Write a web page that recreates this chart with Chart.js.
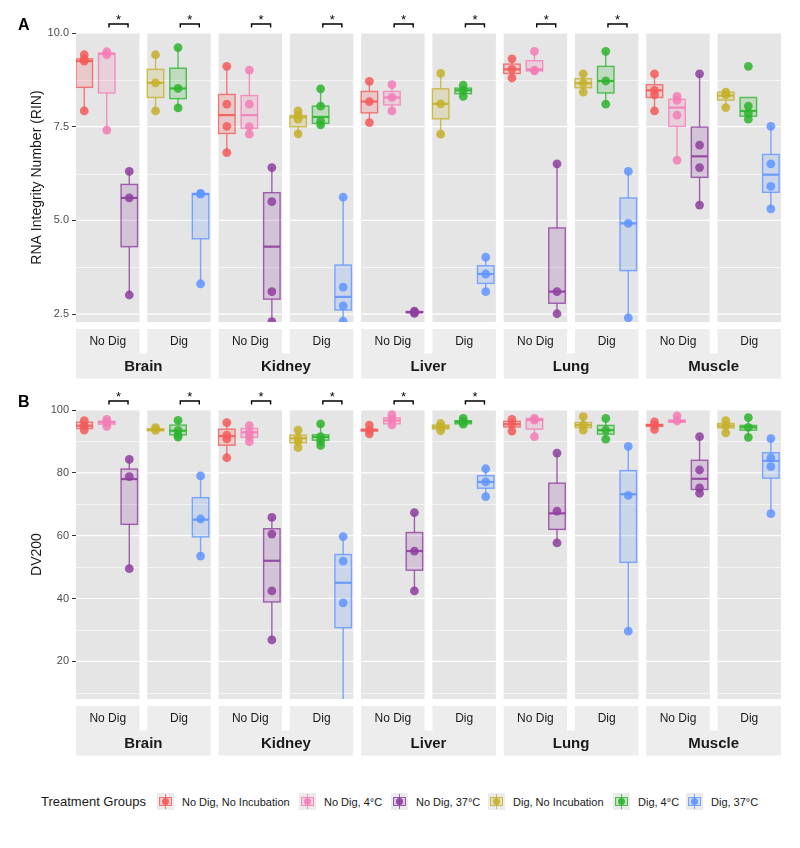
<!DOCTYPE html>
<html>
<head>
<meta charset="utf-8">
<script src="https://cdn.jsdelivr.net/npm/chart.js@4.4.1/dist/chart.umd.min.js"></script>
<style>
  body { margin: 0; background: #fff; font-family: "Liberation Sans", Arial, sans-serif; }
  #wrap { position: relative; width: 800px; height: 848px; overflow: hidden; }
  canvas { position: absolute; left: 0; }
  #legend { position: absolute; left: 0; top: 793px; width: 800px; height: 18px; }
  #legend .title { position: absolute; left: 41px; top: 0; font-size: 13px; line-height: 18px; color: #1a1a1a; }
  #legend .key { position: absolute; top: 0; width: 17px; height: 17px; background: #ebebeb; }
  #legend .key i { position: absolute; display: block; }
  #legend .lab { position: absolute; top: 0; font-size: 11px; line-height: 18px; color: #1a1a1a; white-space: nowrap; }
</style>
</head>
<body>
<div id="wrap">
  <canvas id="rin" width="800" height="380" style="top:0"></canvas>
  <canvas id="dv" width="800" height="380" style="top:380px"></canvas>
  <div id="legend"><span class="title">Treatment Groups</span></div>
</div>
<script>
// facets: tissue x digestion, 3 treatment groups in each
const tissues = ["Brain", "Kidney", "Liver", "Lung", "Muscle"];
const digestion = ["No Dig", "Dig"];
const groups = ["No Dig, No Incubation", "No Dig, 4°C", "No Dig, 37°C",
                "Dig, No Incubation", "Dig, 4°C", "Dig, 37°C"];
const groupColors = ["#F45B5B", "#F47DB6", "#8E3E9E", "#C5B02A", "#2EB42E", "#5F95FF"];

// box stats per facet (Brain NoDig, Brain Dig, Kidney NoDig, ...), per group: [min, q1, median, q3, max]
const rinBox = [
  [[7.92, 8.55, 9.25, 9.31, 9.42], [7.41, 8.40, 9.45, 9.45, 9.50], [3.01, 4.30, 5.60, 5.96, 6.31]],
  [[7.92, 8.28, 8.67, 9.03, 9.42], [8.00, 8.25, 8.52, 9.06, 9.61], [3.31, 4.51, 5.70, 5.72, 5.72]],
  [[6.81, 7.32, 7.81, 8.36, 9.11], [7.30, 7.46, 7.81, 8.33, 9.01], [2.30, 2.90, 4.30, 5.74, 6.41]],
  [[7.31, 7.50, 7.75, 7.80, 7.92], [7.50, 7.59, 7.76, 8.05, 8.51], [2.31, 2.61, 2.96, 3.81, 5.62]],
  [[7.61, 7.87, 8.17, 8.44, 8.71], [7.92, 8.08, 8.28, 8.44, 8.62], [2.52, 2.54, 2.55, 2.57, 2.58]],
  [[7.30, 7.71, 8.11, 8.51, 8.92], [8.31, 8.38, 8.47, 8.53, 8.61], [3.10, 3.32, 3.57, 3.79, 4.02]],
  [[8.80, 8.92, 9.03, 9.17, 9.31], [8.99, 8.99, 9.03, 9.26, 9.51], [2.51, 2.79, 3.10, 4.80, 6.51]],
  [[8.42, 8.54, 8.66, 8.78, 8.91], [8.10, 8.40, 8.72, 9.11, 9.51], [2.40, 3.66, 4.92, 5.60, 6.31]],
  [[7.92, 8.28, 8.47, 8.62, 8.91], [6.61, 7.51, 8.01, 8.23, 8.31], [5.41, 6.15, 6.71, 7.49, 8.91]],
  [[8.01, 8.21, 8.33, 8.42, 8.42], [7.70, 7.78, 7.92, 8.28, 8.28], [5.31, 5.75, 6.22, 6.76, 7.51]]
];
const rinPoints = [
  [[9.42, 9.30, 9.25, 7.92], [9.50, 9.42, 7.41], [6.31, 5.60, 3.01]],
  [[9.42, 8.67, 7.92], [9.61, 8.52, 8.00], [5.72, 5.70, 3.31]],
  [[9.11, 8.10, 7.51, 6.81], [9.01, 8.10, 7.50, 7.30], [6.41, 5.50, 3.10, 2.30]],
  [[7.92, 7.80, 7.70, 7.31], [8.51, 8.05, 7.65, 7.55], [5.62, 3.22, 2.72, 2.31]],
  [[8.71, 8.17, 7.61], [8.62, 8.28, 7.92], [2.58, 2.55, 2.52]],
  [[8.92, 8.11, 7.30], [8.61, 8.47, 8.31], [4.02, 3.57, 3.10]],
  [[9.31, 9.03, 8.80], [9.51, 9.01, 8.99], [6.51, 3.10, 2.51]],
  [[8.91, 8.66, 8.42], [9.51, 8.72, 8.10], [6.31, 4.92, 2.40]],
  [[8.91, 8.47, 8.35, 7.92], [8.31, 8.20, 7.81, 6.61], [8.91, 7.01, 6.41, 5.41]],
  [[8.42, 8.35, 8.01], [9.11, 8.05, 7.85, 7.70], [7.51, 6.51, 5.91, 5.31]]
];
const dvBox = [
  [[93.6, 94.1, 95.0, 96.1, 96.6], [94.5, 95.5, 96.1, 96.4, 97.0], [49.5, 63.6, 78.0, 81.2, 84.3]],
  [[93.3, 93.4, 93.7, 94.0, 94.4], [91.4, 92.1, 93.4, 95.2, 96.7], [53.5, 59.6, 65.1, 72.1, 79.0]],
  [[84.8, 88.8, 91.7, 93.9, 96.0], [89.9, 91.3, 92.9, 94.1, 95.2], [26.8, 38.9, 52.0, 62.2, 65.8]],
  [[88.0, 89.6, 91.0, 92.0, 93.6], [88.6, 90.4, 91.4, 92.1, 95.6], [5.0, 30.7, 45.0, 54.0, 59.7]],
  [[92.4, 93.3, 93.6, 93.9, 95.2], [95.2, 95.6, 96.6, 97.5, 98.5], [42.4, 49.0, 55.1, 61.0, 67.3]],
  [[93.4, 94.0, 94.6, 95.2, 95.7], [95.3, 95.6, 96.2, 96.6, 97.3], [72.4, 75.1, 77.1, 79.1, 81.3]],
  [[93.3, 94.6, 95.5, 96.4, 97.0], [91.5, 93.9, 96.8, 97.3, 97.3], [57.7, 62.0, 67.1, 76.7, 86.3]],
  [[93.6, 94.4, 95.2, 96.0, 97.9], [90.7, 92.3, 93.6, 95.1, 97.3], [29.6, 51.5, 73.2, 80.7, 88.4]],
  [[93.8, 94.8, 95.2, 95.4, 96.2], [96.0, 96.1, 96.5, 96.8, 98.1], [73.5, 74.7, 78.1, 84.0, 91.5]],
  [[92.7, 94.3, 95.0, 95.7, 96.6], [91.3, 93.6, 94.5, 95.1, 97.6], [67.0, 78.3, 83.8, 86.4, 90.9]]
];
const dvPoints = [
  [[96.6, 95.0, 93.6], [97.0, 96.1, 94.8], [84.3, 78.8, 49.5]],
  [[94.4, 93.5], [96.7, 93.5, 92.0, 91.4], [79.0, 65.3, 53.5]],
  [[96.0, 92.0, 90.8, 84.8], [95.0, 93.0, 91.5, 89.9], [65.8, 60.5, 42.4, 26.8]],
  [[93.6, 91.0, 90.0, 88.0], [95.6, 91.5, 90.0, 88.7], [59.7, 51.9, 38.6, 5.0]],
  [[95.2, 93.6, 92.4], [98.5, 97.0, 95.3], [67.3, 55.1, 42.4]],
  [[95.7, 94.6, 93.4], [97.3, 96.2, 95.5], [81.3, 77.1, 72.4]],
  [[97.0, 95.5, 93.3], [97.3, 96.8, 91.5], [86.3, 67.8, 57.7]],
  [[97.9, 95.2, 93.6], [97.3, 93.6, 90.7], [88.4, 72.8, 29.6]],
  [[96.2, 95.2, 93.8], [98.1, 96.5], [91.5, 80.9, 75.2, 73.5]],
  [[96.6, 95.0, 92.7], [97.6, 94.5, 91.3], [90.9, 84.8, 82.0, 67.0]]
];
const rinTicks = [2.5, 5, 7.5, 10];
const rinMinor = [3.75, 6.25, 8.75];
const dvTicks = [20, 40, 60, 80, 100];
const dvMinor = [10, 30, 50, 70, 90];
// facets carrying a significance bracket
const rinStars = [0, 1, 2, 3, 4, 5, 6, 7];
const dvStars = [0, 1, 2, 3, 4, 5];

// layout inside one facet (fractions of facet width)
const FACET_W = 0.89;
const GROUP_POS = [0.13, 0.485, 0.84];
const BOX_FRAC = 0.26;
const FONT = '"Liberation Sans", Arial, sans-serif';

function rgba(hex, a) {
  const n = parseInt(hex.slice(1), 16);
  return `rgba(${n >> 16},${(n >> 8) & 255},${n & 255},${a})`;
}

function hline(ctx, x1, x2, y) {
  ctx.beginPath(); ctx.moveTo(x1, y); ctx.lineTo(x2, y); ctx.stroke();
}

const facetPlugin = {
  id: "facets",
  beforeDraw(chart, args, o) {
    const { ctx, chartArea: a, scales: { x, y } } = chart;
    ctx.save();
    for (let f = 0; f < 10; f++) {
      const l = x.getPixelForValue(f), r = x.getPixelForValue(f + FACET_W);
      ctx.fillStyle = "#E5E5E5";
      ctx.fillRect(l, a.top, r - l, a.bottom - a.top);
      ctx.strokeStyle = "#ffffff";
      ctx.lineWidth = 0.6;
      o.minor.forEach(v => hline(ctx, l, r, Math.round(y.getPixelForValue(v)) + 0.5));
      ctx.lineWidth = 1.2;
      y.ticks.forEach(t => hline(ctx, l, r, y.getPixelForValue(t.value)));
    }
    ctx.restore();
  },
  beforeDatasetsDraw(chart, args, o) {
    const { ctx, chartArea: a, scales: { x, y } } = chart;
    const half = (x.getPixelForValue(BOX_FRAC * FACET_W) - x.getPixelForValue(0)) / 2;
    ctx.save();
    ctx.beginPath();
    ctx.rect(a.left, a.top, a.right - a.left, a.bottom - a.top);
    ctx.clip();
    o.boxes.forEach((facet, f) => {
      facet.forEach((s, g) => {
        const col = groupColors[(f % 2) * 3 + g];
        const cx = x.getPixelForValue(f + FACET_W * GROUP_POS[g]);
        const [mn, q1, md, q3, mx] = s.map(v => y.getPixelForValue(v));
        ctx.strokeStyle = rgba(col, 0.8);
        ctx.lineWidth = 1.4;
        ctx.beginPath();
        ctx.moveTo(cx, q3); ctx.lineTo(cx, mx);
        ctx.moveTo(cx, q1); ctx.lineTo(cx, mn);
        ctx.stroke();
        ctx.fillStyle = rgba(col, 0.2);
        ctx.fillRect(cx - half, q3, half * 2, q1 - q3);
        ctx.strokeRect(cx - half, q3, half * 2, q1 - q3);
        ctx.lineWidth = 2.2;
        ctx.strokeStyle = rgba(col, 0.9);
        hline(ctx, cx - half, cx + half, md);
      });
    });
    ctx.restore();
  },
  afterDraw(chart, args, o) {
    const { ctx, chartArea: a, scales: { x } } = chart;
    ctx.save();
    // strips
    tissues.forEach((t, ti) => {
      const l = x.getPixelForValue(2 * ti), r = x.getPixelForValue(2 * ti + 1 + FACET_W);
      ctx.fillStyle = "#EDEDED";
      ctx.fillRect(l, a.bottom + 7, r - l, 49.5);
      const gl = x.getPixelForValue(2 * ti + FACET_W), gr = x.getPixelForValue(2 * ti + 1);
      ctx.fillStyle = "#ffffff";
      ctx.fillRect(gl, a.bottom + 7, gr - gl, 24.5);
      ctx.fillStyle = "#1a1a1a";
      ctx.textAlign = "center";
      ctx.textBaseline = "middle";
      ctx.font = "bold 15px " + FONT;
      ctx.fillText(t, (l + r) / 2, a.bottom + 44.5);
      ctx.font = "12px " + FONT;
      digestion.forEach((d, di) => {
        const f = 2 * ti + di;
        ctx.fillText(d, (x.getPixelForValue(f) + x.getPixelForValue(f + FACET_W)) / 2, a.bottom + 20);
      });
    });
    // significance brackets
    ctx.strokeStyle = "#000";
    ctx.lineWidth = 1.4;
    ctx.fillStyle = "#000";
    ctx.font = "13px " + FONT;
    ctx.textBaseline = "alphabetic";
    o.stars.forEach(f => {
      const l = x.getPixelForValue(f + FACET_W * 0.52), r = x.getPixelForValue(f + FACET_W * 0.82);
      ctx.beginPath();
      ctx.moveTo(l, a.top - 5.5); ctx.lineTo(l, a.top - 9);
      ctx.lineTo(r, a.top - 9); ctx.lineTo(r, a.top - 5.5);
      ctx.stroke();
      ctx.fillText("*", (l + r) / 2, a.top - 9.5);
    });
    // panel tag
    ctx.textAlign = "left";
    ctx.font = "bold 16px " + FONT;
    ctx.fillText(o.tag, 18, a.top - 3);
    ctx.restore();
  }
};

function pointDatasets(points) {
  return groups.map((name, gi) => {
    const dig = Math.floor(gi / 3), g = gi % 3;
    const data = [];
    points.forEach((facet, f) => {
      if (f % 2 !== dig) return;
      facet[g].forEach(v => data.push({ x: f + FACET_W * GROUP_POS[g], y: v }));
    });
    return {
      label: name,
      data,
      backgroundColor: rgba(groupColors[gi], 0.85),
      borderWidth: 0,
      pointRadius: 4.4,
      pointHoverRadius: 4.4
    };
  });
}

function makePanel(id, opts) {
  return new Chart(document.getElementById(id), {
    type: "scatter",
    data: { datasets: pointDatasets(opts.points) },
    options: {
      responsive: false,
      animation: false,
      layout: { padding: { left: 25, right: 19, top: opts.top, bottom: opts.bottom } },
      plugins: {
        legend: { display: false },
        tooltip: { enabled: false },
        facets: { boxes: opts.boxes, minor: opts.minor, stars: opts.stars, tag: opts.tag }
      },
      scales: {
        x: { type: "linear", min: 0, max: 9 + FACET_W, display: false },
        y: {
          min: opts.min,
          max: opts.max,
          afterBuildTicks: s => { s.ticks = opts.ticks.map(v => ({ value: v })); },
          afterFit: s => { s.width = 51; },
          grid: { drawOnChartArea: false, color: "#333333", tickLength: 4 },
          border: { display: false },
          ticks: {
            color: "#4D4D4D",
            font: { family: FONT, size: 11 },
            padding: 3,
            callback: opts.format
          },
          title: {
            display: true,
            text: opts.title,
            color: "#1a1a1a",
            font: { family: FONT, size: 14 },
            padding: { top: 4, bottom: 4 }
          }
        }
      }
    },
    plugins: [facetPlugin]
  });
}

makePanel("rin", {
  points: rinPoints, boxes: rinBox, minor: rinMinor, ticks: rinTicks, stars: rinStars,
  min: 2.29, max: 10, top: 33, bottom: 58, tag: "A",
  title: "RNA Integrity Number (RIN)", format: v => v.toFixed(1)
});
makePanel("dv", {
  points: dvPoints, boxes: dvBox, minor: dvMinor, ticks: dvTicks, stars: dvStars,
  min: 8, max: 100, top: 30, bottom: 61, tag: "B",
  title: "DV200", format: v => String(v)
});

// legend
const legend = document.getElementById("legend");
const keyLeft = [157, 299, 391, 488, 613, 686];
groups.forEach((name, gi) => {
  const c = groupColors[gi];
  const key = document.createElement("div");
  key.className = "key";
  key.style.left = keyLeft[gi] + "px";
  key.innerHTML =
    `<i style="left:8px;top:1px;width:1.3px;height:15px;background:${rgba(c, 0.8)}"></i>` +
    `<i style="left:2px;top:4px;width:11px;height:7px;border:1.3px solid ${rgba(c, 0.8)};background:${rgba(c, 0.2)}"></i>` +
    `<i style="left:5px;top:5px;width:7px;height:7px;border-radius:50%;background:${rgba(c, 0.9)}"></i>`;
  legend.appendChild(key);
  const lab = document.createElement("span");
  lab.className = "lab";
  lab.style.left = (keyLeft[gi] + 25) + "px";
  lab.textContent = name;
  legend.appendChild(lab);
});
</script>
</body>
</html>
